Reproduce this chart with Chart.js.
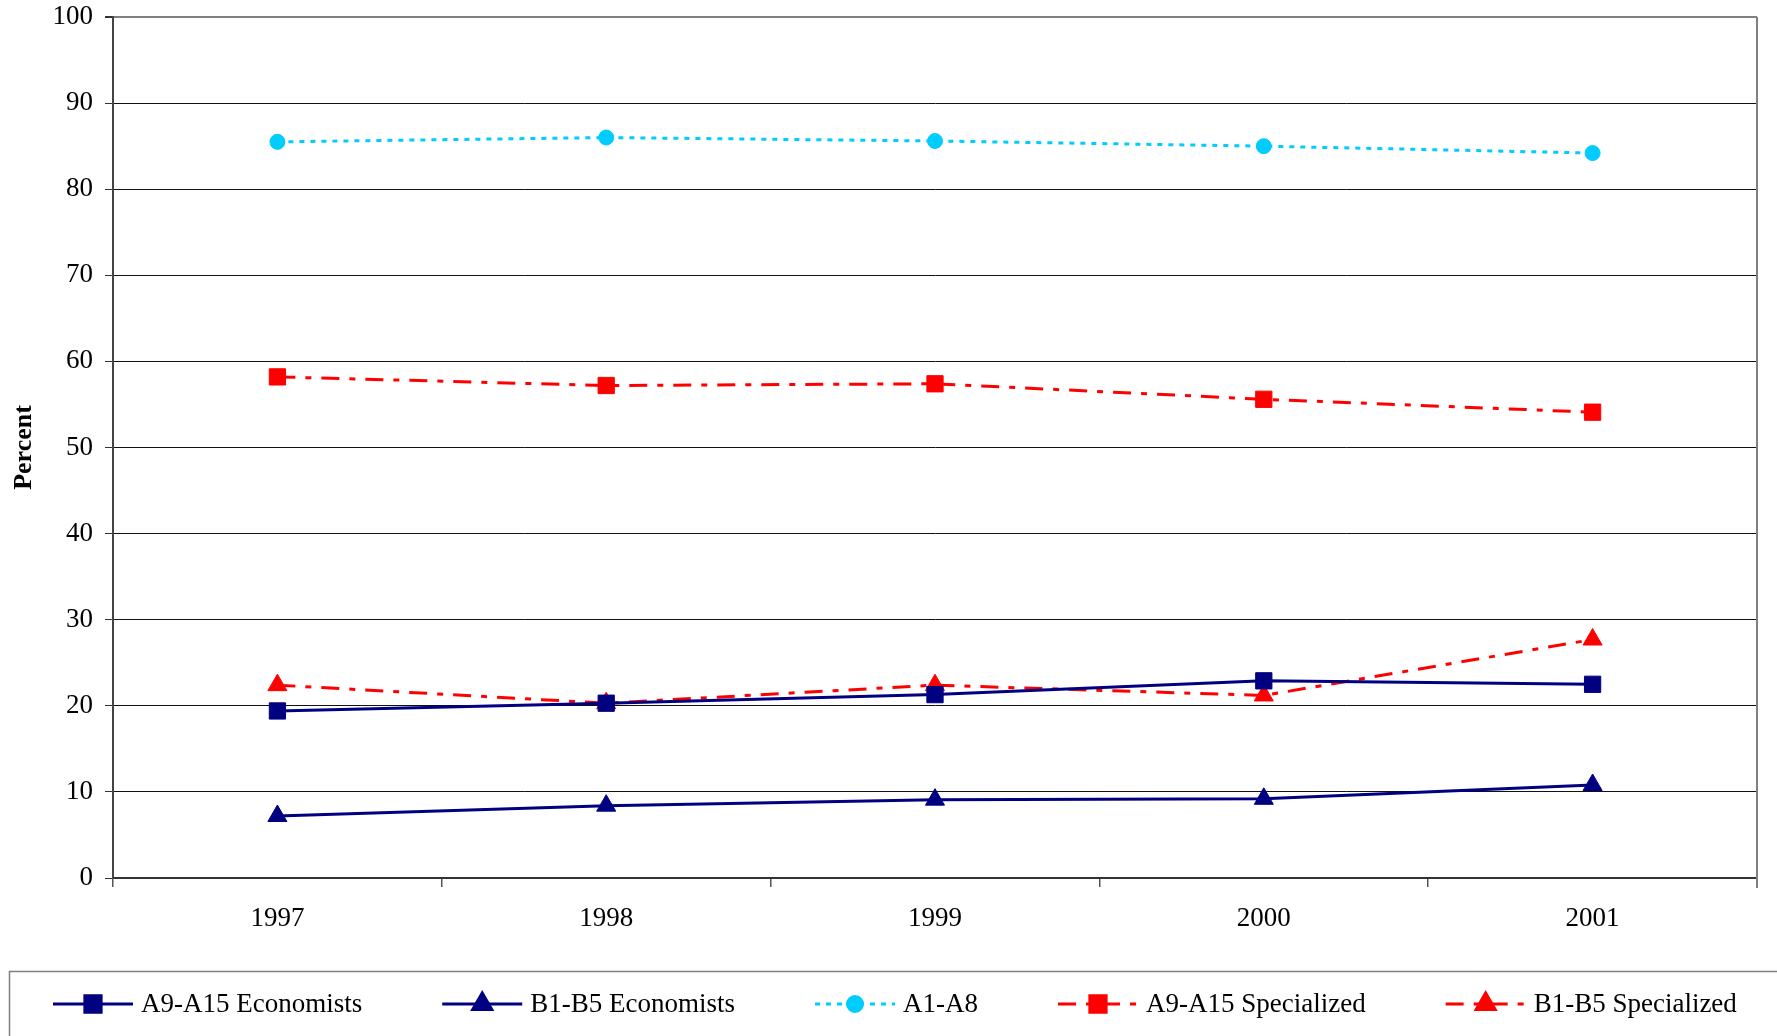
<!DOCTYPE html>
<html>
<head>
<meta charset="utf-8">
<script src="https://cdn.jsdelivr.net/npm/chart.js@4.4.0/dist/chart.umd.min.js"></script>
<style>
  html, body { margin: 0; padding: 0; background: #fff; }
  #wrap { width: 1777px; height: 1036px; }
</style>
</head>
<body>
<div id="wrap"><canvas id="grafico"></canvas></div>
<script>
// datos
const years = ['1997', '1998', '1999', '2000', '2001'];
const a9a15Economists = [19.4, 20.3, 21.3, 22.9, 22.5];
const b1b5Economists = [7.2, 8.4, 9.1, 9.2, 10.8];
const a1a8 = [85.5, 86.0, 85.6, 85.0, 84.2];
const a9a15Specialized = [58.2, 57.2, 57.4, 55.6, 54.1];
const b1b5Specialized = [22.4, 20.3, 22.4, 21.2, 27.7];
const yTicks = [0, 10, 20, 30, 40, 50, 60, 70, 80, 90, 100];

const FONT = '"Liberation Serif", "Times New Roman", serif';
const NAVY = '#000080';
const CYAN = '#00CCFF';
const RED = '#FF0000';

// borde derecho del area del grafico
const bordePlugin = {
    id: 'borde',
    afterDraw(chart) {
        const c = chart.ctx, a = chart.chartArea;
        c.save();
        c.strokeStyle = '#808080';
        c.lineWidth = 2;
        c.beginPath();
        c.moveTo(a.right, a.top);
        c.lineTo(a.right, a.bottom + 10);
        c.stroke();
        c.restore();
    }
};

// leyenda propia: linea + marcador, dentro de un recuadro
const leyendaPlugin = {
    id: 'leyenda',
    afterDraw(chart) {
        const c = chart.ctx;
        c.save();
        c.strokeStyle = '#808080';
        c.lineWidth = 1.5;
        c.strokeRect(9.5, 971.5, 1800, 100);
        c.font = '27px ' + FONT;
        c.textBaseline = 'middle';
        let x = 53;
        const y = 1004;
        chart.data.datasets.forEach(ds => {
            c.strokeStyle = ds.borderColor;
            c.lineWidth = ds.borderWidth;
            c.setLineDash(ds.borderDash || []);
            c.beginPath();
            c.moveTo(x, y);
            c.lineTo(x + 80, y);
            c.stroke();
            c.setLineDash([]);
            c.fillStyle = ds.pointBackgroundColor;
            c.strokeStyle = ds.pointBorderColor;
            Chart.helpers.drawPoint(c, {
                pointStyle: ds.pointStyle,
                radius: ds.pointRadius,
                borderWidth: 1
            }, x + 40, y);
            c.fillStyle = '#000';
            c.fillText(ds.label, x + 88, y + 1);
            x += 88 + c.measureText(ds.label).width + 80;
        });
        c.restore();
    }
};

function serie(label, data, color, style, dash, radius) {
    return {
        label: label,
        data: data,
        borderColor: color,
        backgroundColor: color,
        pointBackgroundColor: color,
        pointBorderColor: color,
        borderWidth: 3,
        borderDash: dash,
        pointStyle: style,
        pointRadius: radius,
        pointBorderWidth: 1,
        tension: 0,
        fill: false
    };
}

var ctx = document.getElementById('grafico').getContext('2d');
var grafico = new Chart(ctx, {
    type: 'line',
    data: {
        labels: years,
        datasets: [
            serie('A9-A15 Economists', a9a15Economists, NAVY, 'rect', [], 11.5),
            serie('B1-B5 Economists', b1b5Economists, NAVY, 'triangle', [], 11),
            serie('A1-A8', a1a8, CYAN, 'circle', [5, 6], 7.5),
            serie('A9-A15 Specialized', a9a15Specialized, RED, 'rect', [18, 10, 6, 10], 11.5),
            serie('B1-B5 Specialized', b1b5Specialized, RED, 'triangle', [18, 10, 6, 10], 11)
        ]
    },
    options: {
        responsive: true,
        maintainAspectRatio: false,
        animation: false,
        layout: { padding: { left: 0, right: 20, top: 17, bottom: 100 } },
        plugins: {
            legend: { display: false },
            tooltip: { enabled: false }
        },
        scales: {
            x: {
                offset: true,
                grid: {
                    offset: true,
                    drawOnChartArea: false,
                    color: '#555',
                    lineWidth: 1.5,
                    tickLength: 9
                },
                border: { color: '#333', width: 2 },
                ticks: {
                    color: '#000',
                    padding: 16,
                    maxRotation: 0,
                    font: { family: FONT, size: 27 }
                },
                afterFit: s => { s.height = 58; }
            },
            y: {
                min: 0,
                max: 100,
                afterBuildTicks: s => { s.ticks = yTicks.map(v => ({ value: v })); },
                grid: {
                    color: ctx => ctx.tick.value === 100 ? '#808080' : '#111',
                    lineWidth: ctx => ctx.tick.value === 100 ? 2 : 1,
                    tickLength: 8,
                    tickColor: '#333'
                },
                border: { color: '#444', width: 2 },
                ticks: {
                    color: '#000',
                    padding: 12,
                    font: { family: FONT, size: 27 }
                },
                title: {
                    display: true,
                    text: 'Percent',
                    color: '#000',
                    padding: { top: 9, bottom: 0 },
                    font: { family: FONT, size: 26, weight: 'bold' }
                },
                afterFit: s => { s.width = 113; s.paddingTop = 0; s.paddingBottom = 0; }
            }
        }
    },
    plugins: [bordePlugin, leyendaPlugin]
});
</script>
</body>
</html>
